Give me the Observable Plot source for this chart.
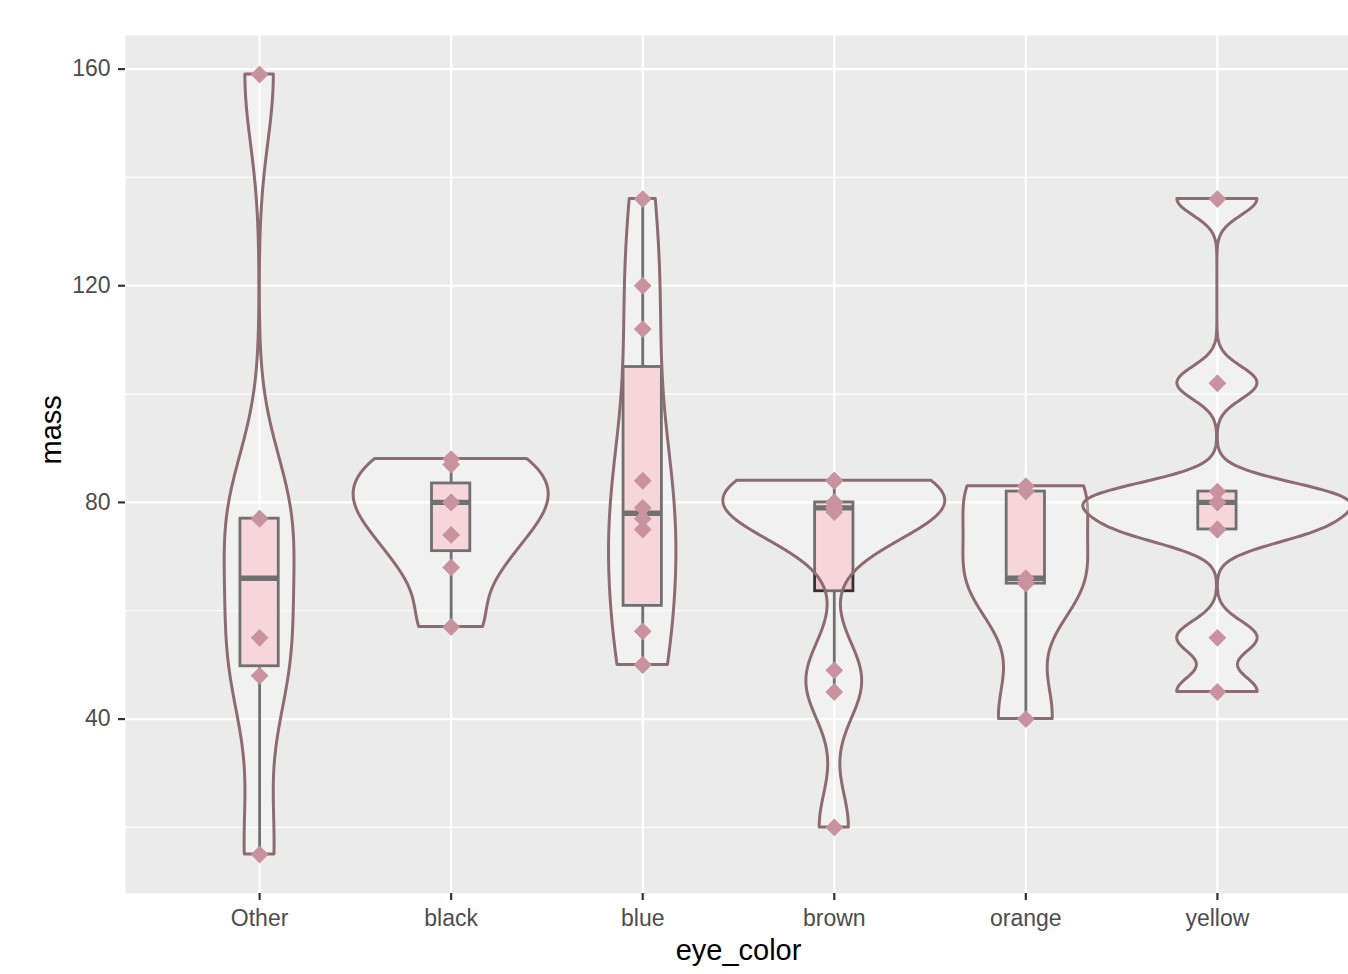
<!DOCTYPE html>
<html><head><meta charset="utf-8">
<script src="https://cdn.jsdelivr.net/npm/d3@7"></script>
<script src="https://cdn.jsdelivr.net/npm/@observablehq/plot@0.6"></script>
<style>body{margin:0;background:#fff;font-family:"Liberation Sans",Arial,sans-serif}</style>
</head><body><div id="chart"></div>
<script>
// ---- data ----
const categories = ["Other", "black", "blue", "brown", "orange", "yellow"];
const massOther  = [15, 48, 55, 77, 77, 159];
const massBlack  = [57, 68, 74, 80, 80, 87, 88];
const massBlue   = [50, 50, 56.2, 75, 77, 79, 84, 112, 120, 136];
const massBrown  = [20, 45, 49, 78.2, 79, 79, 79, 80, 80, 84, 84];
const massOrange = [40, 65, 66, 82, 83];
const massYellow = [45, 55, 75, 75, 80, 80, 82, 102, 136];
const yTicks = [40, 80, 120, 160];
const yMinor = [20, 60, 100, 140];

const groups = [massOther, massBlack, massBlue, massBrown, massOrange, massYellow];
const idx = d3.range(categories.length);

// points
const points = groups.flatMap((g, i) => g.map(v => ({i, mass: v})));

// box statistics (type-7 quantiles, 1.5 IQR whiskers)
const boxes = groups.map((g, i) => {
  const s = g.slice().sort(d3.ascending);
  const q1 = d3.quantile(s, 0.25), med = d3.quantile(s, 0.5), q3 = d3.quantile(s, 0.75);
  const iqr = q3 - q1;
  const lo = d3.min(s.filter(v => v >= q1 - 1.5 * iqr));
  const hi = d3.max(s.filter(v => v <= q3 + 1.5 * iqr));
  return {i, q1, med, q3, lo, hi};
});

// violin densities (gaussian kernel, nrd0 bandwidth, trimmed)
function nrd0(x) {
  const sd = d3.deviation(x);
  const iqr = d3.quantile(x, 0.75) - d3.quantile(x, 0.25);
  let lo = Math.min(sd, iqr / 1.34);
  if (!(lo > 0)) lo = sd || 1;
  return 0.9 * lo * Math.pow(x.length, -0.2);
}
const dens = groups.map((g, i) => {
  const bw = nrd0(g), n = g.length;
  const [mn, mx] = d3.extent(g);
  return d3.range(512).map(k => {
    const y = mn + (mx - mn) * k / 511;
    const d = d3.sum(g, v => Math.exp(-0.5 * ((y - v) / bw) ** 2)) / (n * bw * Math.sqrt(2 * Math.PI));
    return {i, y, d};
  });
});
const dmax = d3.max(dens.flat(), r => r.d);
const violinRows = dens.flat().map(r => ({i: r.i, y: r.y, x1: r.i - 0.7 * r.d / dmax, x2: r.i + 0.7 * r.d / dmax}));

const chart = Plot.plot({
  width: 1348,
  height: 974,
  marginLeft: 125,
  marginRight: -3,
  marginTop: 35,
  marginBottom: 81,
  style: {fontFamily: "Liberation Sans, Arial, sans-serif", background: "white"},
  x: {type: "linear", domain: [-0.7, 5.7]},
  y: {domain: [7.8, 166.2]},
  marks: [
    Plot.frame({fill: "#ebebeb"}),
    Plot.ruleY(yMinor, {stroke: "white", strokeWidth: 1.1}),
    Plot.ruleY(yTicks, {stroke: "white", strokeWidth: 2.2}),
    Plot.ruleX(idx, {stroke: "white", strokeWidth: 2.2}),
    // whiskers
    Plot.ruleX(boxes, {x: "i", y1: "lo", y2: "q1", stroke: "#333", strokeWidth: 2.8}),
    Plot.ruleX(boxes, {x: "i", y1: "q3", y2: "hi", stroke: "#333", strokeWidth: 2.8}),
    // box
    Plot.rect(boxes, {x1: d => d.i - 0.1, x2: d => d.i + 0.1, y1: "q1", y2: "q3", fill: "#f4c4cc", stroke: "#333", strokeWidth: 2.8}),
    Plot.ruleY(boxes, {x1: d => d.i - 0.1, x2: d => d.i + 0.1, y: "med", stroke: "#333", strokeWidth: 5.4}),
    // violins
    Plot.areaX(violinRows, {y: "y", x1: "x1", x2: "x2", z: "i", fill: "white", fillOpacity: 0.3, stroke: "#8c6b73", strokeWidth: 3}),
    // points
    Plot.dot(points, {x: "i", y: "mass", symbol: "diamond2", r: 8, fill: "#c8929e"}),
    // axes
    Plot.axisX(idx, {tickSize: 7, tickFormat: () => "", stroke: "#333", strokeWidth: 2.2, label: null}),
    Plot.axisX(idx, {tickSize: 0, tickPadding: 16, tickFormat: i => categories[i], fontSize: 23, color: "#4d4d4d", label: null}),
    Plot.axisY(yTicks, {tickSize: 7, tickFormat: () => "", stroke: "#333", strokeWidth: 2.2, label: null}),
    Plot.axisY(yTicks, {tickSize: 0, tickPadding: 15, fontSize: 23, color: "#4d4d4d", label: null}),
    Plot.text(["eye_color"], {frameAnchor: "bottom", text: d => d, dy: 66, lineAnchor: "bottom", fontSize: 29, fill: "black"}),
    Plot.text(["mass"], {frameAnchor: "left", text: d => d, dx: -74, rotate: -90, fontSize: 29, fill: "black"})
  ]
});
document.getElementById("chart").appendChild(chart);
</script>
</body></html>
